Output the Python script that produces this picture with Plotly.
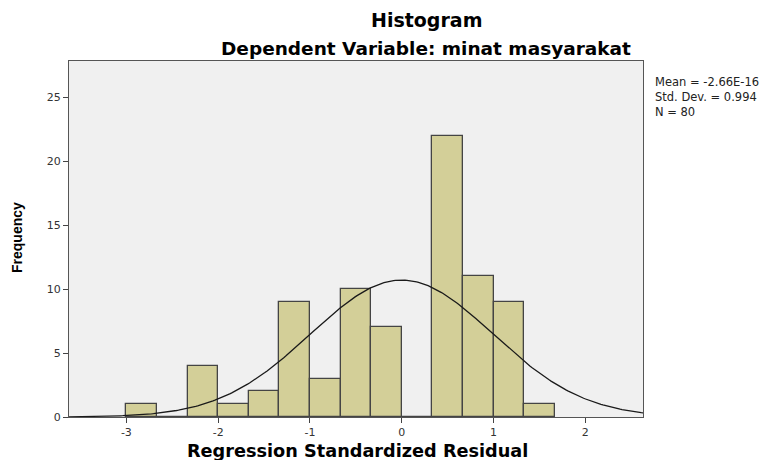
import numpy as np
import plotly.graph_objects as go

# Histogram data (bin width 1/3, starting at -3)
bin_left_edges = [-3.0, -2.6667, -2.3333, -2.0, -1.6667, -1.3333, -1.0, -0.6667,
                  -0.3333, 0.0, 0.3333, 0.6667, 1.0, 1.3333]
counts = [1, 0, 4, 1, 2, 9, 3, 10, 7, 0, 22, 11, 9, 1]
bin_width = 1 / 3

# Summary statistics shown on the chart
mean_val = -2.66e-16
std_dev = 0.994
n_obs = 80
stats_lines = ["Mean = -2.66E-16", "Std. Dev. = 0.994", "N = 80"]

x_ticks = [-3, -2, -1, 0, 1, 2]
y_ticks = [0, 5, 10, 15, 20, 25]

centers = [e + bin_width / 2 for e in bin_left_edges]

# Normal curve scaled to histogram counts
xc = np.linspace(-3.625, 2.63, 300)
yc = n_obs * bin_width / (std_dev * np.sqrt(2 * np.pi)) * np.exp(-0.5 * ((xc - mean_val) / std_dev) ** 2)

fig = go.Figure()
fig.add_trace(go.Bar(
    x=centers, y=counts, width=bin_width,
    marker=dict(color="#D3CF98", line=dict(color="#444444", width=1.3)),
    showlegend=False, hoverinfo="skip",
))
fig.add_trace(go.Scatter(
    x=xc, y=yc, mode="lines",
    line=dict(color="#1a1a1a", width=1.3),
    showlegend=False, hoverinfo="skip",
))

wide = "DejaVu Sans, Verdana, sans-serif"
narrow = "Liberation Sans, Arial, sans-serif"

W, H = 773, 460
l, r, t, b = 69, 130, 61, 43
pw, ph = W - l - r, H - t - b


def px(x):
    return (x - l) / pw


def py(y):
    return 1 - (y - t) / ph


fig.update_layout(
    width=W, height=H,
    margin=dict(l=l, r=r, t=t, b=b),
    paper_bgcolor="white",
    plot_bgcolor="#F0F0F0",
    bargap=0,
    font=dict(family=wide, size=11, color="#333333"),
    xaxis=dict(
        range=[-3.625, 2.628], tickvals=x_ticks, ticktext=[str(v) for v in x_ticks],
        ticks="outside", ticklen=5, tickcolor="#444444", showgrid=False, zeroline=False,
        showline=True, linecolor="#555555", linewidth=1.2, mirror=True,
        tickfont=dict(size=11, color="#333333", family=wide),
    ),
    yaxis=dict(
        range=[0, 27.84], tickvals=y_ticks, ticktext=[str(v) for v in y_ticks],
        ticks="outside", ticklen=5, tickcolor="#444444", showgrid=False, zeroline=False,
        showline=True, linecolor="#555555", linewidth=1.2, mirror=True,
        tickfont=dict(size=11, color="#333333", family=wide),
    ),
)

ann = [
    ("<b>Histogram</b>", 426, 20, 19, "center", 0, "black", wide),
    ("<b>Dependent Variable: minat masyarakat</b>", 426, 48, 18.5, "center", 0, "black", wide),
    ("<b>Regression Standardized Residual</b>", 357, 451, 17.7, "center", 0, "black", wide),
    ("<b>Frequency</b>", 17, 238, 14, "center", -90, "black", narrow),
    ("<br>".join(stats_lines), 653, 97, 11.5, "left", 0, "#222222", wide),
]
for text, x, y, size, xa, ang, col, fam in ann:
    fig.add_annotation(
        text=text, x=px(x), y=py(y), xref="paper", yref="paper",
        xanchor=xa, yanchor="middle", textangle=ang, showarrow=False, align="left",
        font=dict(size=size, color=col, family=fam),
    )

fig.write_html("out.html", config={"displayModeBar": False},
               post_script="document.body.style.margin='0';")
